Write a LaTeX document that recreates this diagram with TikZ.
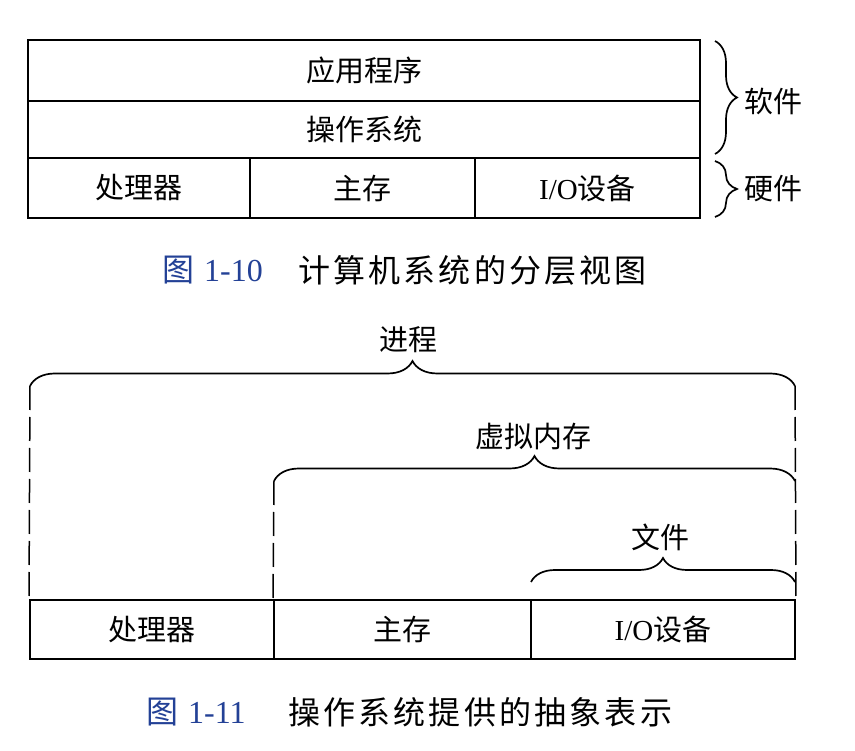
\documentclass[tikz,border=0pt]{standalone}
\usepackage{fontspec}
\setmainfont{Liberation Serif}
\newfontfamily\cjk{Noto Sans CJK SC}
\usetikzlibrary{decorations.pathreplacing,calc}
\definecolor{capblue}{RGB}{35,65,150}
\begin{document}
\begin{tikzpicture}[x=1pt,y=1pt,
  cell/.style 2 args={draw,line width=2pt,minimum width=#1,minimum height=#2,inner sep=0pt,
    font=\cjk\fontsize{29}{32}\selectfont},
  lbl/.style={inner sep=0pt,font=\cjk\fontsize{29}{32}\selectfont},
  bracestyle/.style={decorate,decoration={brace,amplitude=#1},line width=1.7pt},
  dashline/.style={line width=1.5pt,dash pattern=on 24pt off 7pt},
  capnum/.style={inner sep=0pt,anchor=west,text=capblue,font=\fontsize{32}{36}\selectfont},
  captext/.style={inner sep=0pt,anchor=west,font=\cjk\fontsize{32}{36}\selectfont\addfontfeature{LetterSpace=10}}]
\useasboundingbox (0,0) rectangle (855,-751);
\fill[white] (0,0) rectangle (855,-751);

% ---- Figure 1-10 ----
\node[cell={672pt}{61pt}] (app) at (364,-70.5) {应用程序};
\node[cell={672pt}{57pt}] (os) at (364,-129.5) {操作系统};
\node[cell={222pt}{60pt}] (cpu) at (139,-188) {处理器};
\node[cell={225pt}{60pt}] (mem) at (362.5,-188) {主存};
\node[cell={225pt}{60pt}] (io) at (587.5,-188) {{\rmfamily I/O}设备};

\coordinate (swa) at (715,-41);
\coordinate (swb) at (715,-154);
\coordinate (hwa) at (715,-161);
\coordinate (hwb) at (715,-217);
\draw[bracestyle=22pt] (swa) -- (swb);
\draw[bracestyle=22pt] (hwa) -- (hwb);
\node[lbl,anchor=west] (sw) at (744,-101) {软件};
\node[lbl,anchor=west] (hw) at (744,-189) {硬件};

\node[capnum] (c1n) at (162,-270) {{\cjk 图}\hspace{10pt}1-10};
\node[captext] (c1t) at (298,-270) {计算机系统的分层视图};

% ---- Figure 1-11 ----
\node[cell={244pt}{59pt}] (cpu2) at (152,-629.5) {处理器};
\node[cell={257pt}{59pt}] (mem2) at (402.5,-629.5) {主存};
\node[cell={264pt}{59pt}] (io2) at (663,-629.5) {{\rmfamily I/O}设备};

\coordinate (pa) at (30,-386);
\coordinate (pb) at (795,-386);
\coordinate (va) at (274,-481);
\coordinate (vb) at (795,-481);
\coordinate (fa) at (531,-582);
\coordinate (fb) at (795,-582);
\draw[bracestyle=25pt] (pa) -- (pb);
\draw[bracestyle=25pt] (va) -- (vb);
\draw[bracestyle=24pt] (fa) -- (fb);
\node[lbl] (proc) at (408,-340) {进程};
\node[lbl] (vm) at (533,-437) {虚拟内存};
\node[lbl] (file) at (660,-537) {文件};

\draw[dashline] (pa) -- (cpu2.north west);
\draw[dashline] (va) -- (mem2.north west);
\draw[dashline] (pb) -- (io2.north east);

\node[capnum] (c2n) at (146,-712) {{\cjk 图}\hspace{10pt}1-11};
\node[captext] (c2t) at (288,-712) {操作系统提供的抽象表示};
\end{tikzpicture}
\end{document}
